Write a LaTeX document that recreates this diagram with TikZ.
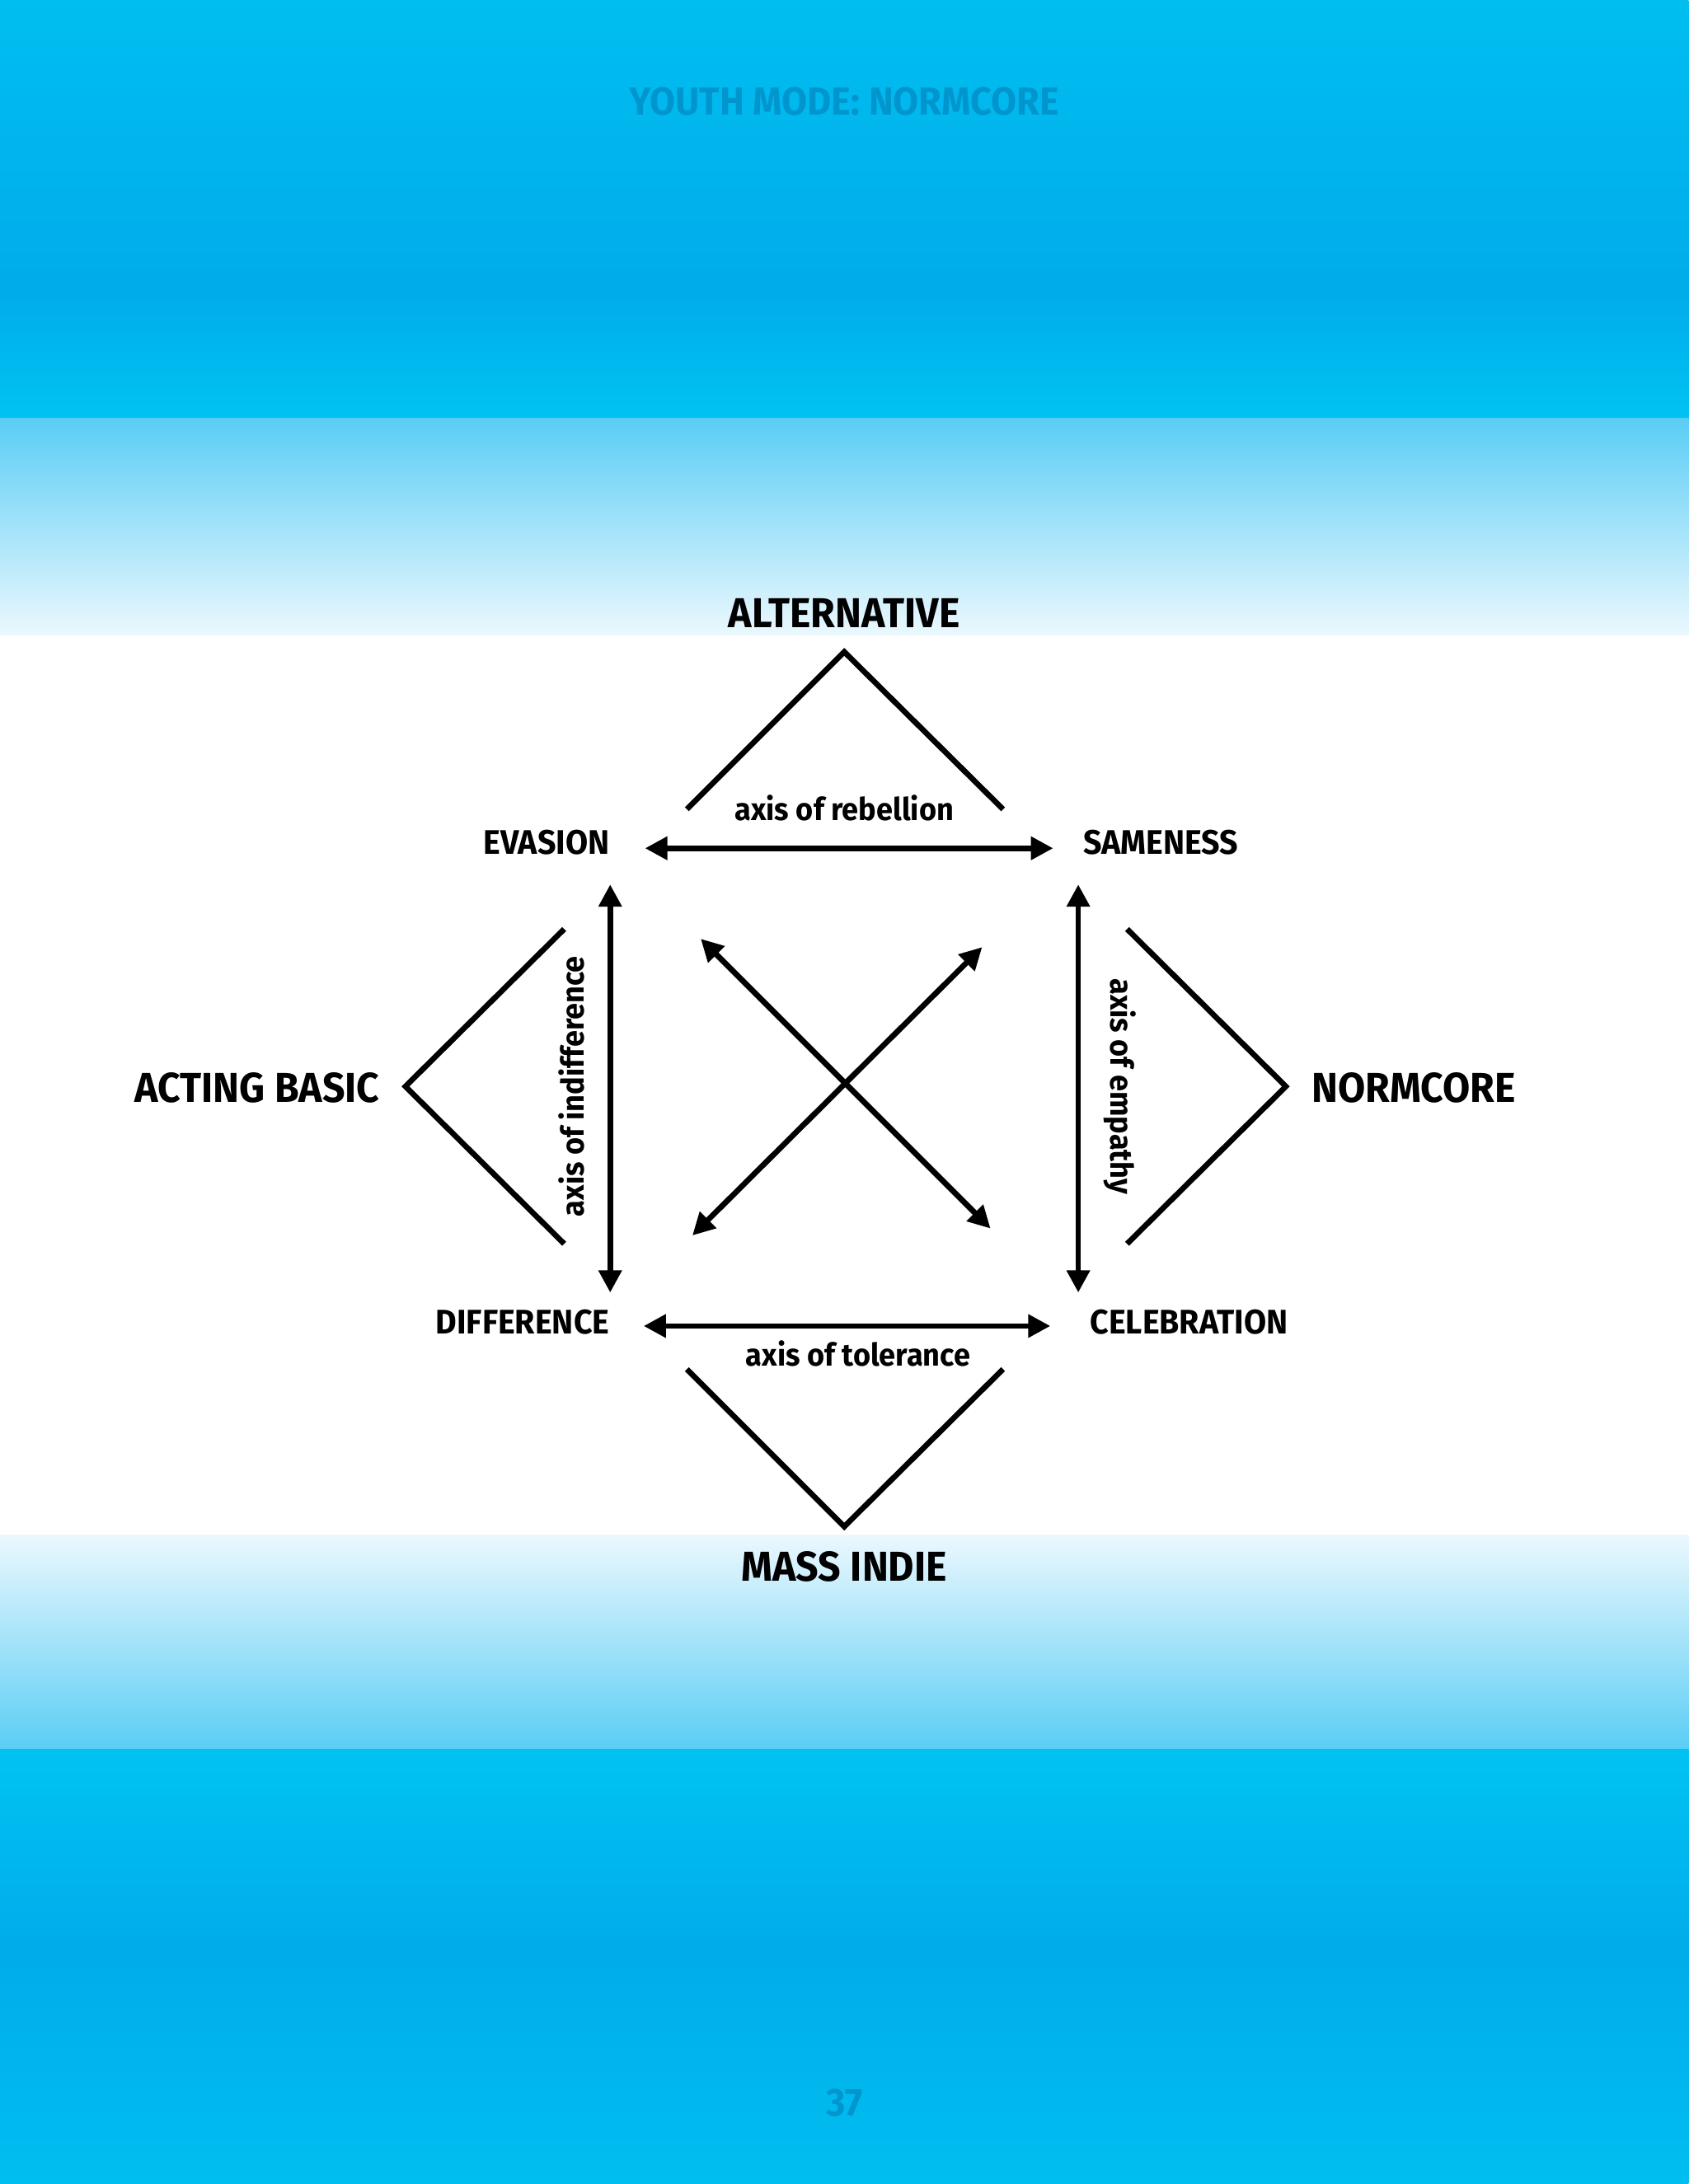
\documentclass[tikz,border=0pt]{standalone}
\usepackage{fontspec}
\setmainfont{Fira Sans}[FakeStretch=0.95]
\usetikzlibrary{arrows.meta}
\definecolor{cyanA}{RGB}{0,190,240}
\definecolor{cyanB}{RGB}{0,172,234}
\definecolor{cyanC}{RGB}{0,195,242}
\definecolor{cyanL}{RGB}{90,205,245}
\definecolor{cyanW}{RGB}{235,248,254}
\definecolor{titleblue}{RGB}{0,150,205}
\tikzset{
  ln/.style={line width=4pt,black},
  dbl/.style={ln,{Triangle[length=16pt,width=16pt]}-{Triangle[length=16pt,width=16pt]}},
  big/.style={font=\bfseries\fontsize{30}{32}\selectfont},
  mid/.style={font=\bfseries\fontsize{24.5}{26}\selectfont},
  axl/.style={font=\bfseries\fontsize{22.5}{24}\selectfont},
  ttl/.style={text=titleblue,font=\bfseries\fontsize{28}{30}\selectfont},
}
\begin{document}
\begin{tikzpicture}[x=1pt,y=-1pt]
\useasboundingbox (0,0) rectangle (1212,1568);
\fill[white] (0,0) rectangle (1212,1568);
\shade[top color=cyanA,bottom color=cyanB] (0,0) rectangle (1212,210);
\shade[top color=cyanB,bottom color=cyanC] (0,209) rectangle (1212,301);
\shade[top color=cyanL,bottom color=cyanW] (0,300) rectangle (1212,456);
\shade[top color=cyanW,bottom color=cyanL] (0,1102) rectangle (1212,1257);
\shade[top color=cyanC,bottom color=cyanB] (0,1256) rectangle (1212,1400);
\shade[top color=cyanB,bottom color=cyanA] (0,1399) rectangle (1212,1568);
\node[ttl] (title) at (606,73) {YOUTH MODE: NORMCORE};
\node[ttl] (page) at (606,1510) {37};
% labels
\node[big] (alt) at (606,440) {ALTERNATIVE};
\node[big] (mass) at (606,1125) {MASS INDIE};
\node[big,anchor=east] (basic) at (276,781) {ACTING BASIC};
\node[big,anchor=west] (norm) at (938,781) {NORMCORE};
\node[mid,anchor=east] (eva) at (441,605) {EVASION};
\node[mid,anchor=west] (same) at (774,605) {SAMENESS};
\node[mid,anchor=east] (diff) at (441,949) {DIFFERENCE};
\node[mid,anchor=west] (cele) at (779,949) {CELEBRATION};
\node[axl] (reb) at (606,580) {axis of rebellion};
\node[axl] (tol) at (616,972) {axis of tolerance};
\node[axl,rotate=90] (ind) at (410,780) {axis of indifference};
\node[axl,rotate=-90] (emp) at (804,780) {axis of empathy};
% coordinates
\coordinate (t1) at (493,581); \coordinate (t2) at (606,468); \coordinate (t3) at (720,581);
\coordinate (b1) at (493,983); \coordinate (b2) at (606,1096); \coordinate (b3) at (720,983);
\coordinate (l1) at (405,667); \coordinate (l2) at (291,780); \coordinate (l3) at (405,893);
\coordinate (r1) at (809,667); \coordinate (r2) at (923,780); \coordinate (r3) at (809,893);
\coordinate (h1a) at (463,609); \coordinate (h1b) at (756,609);
\coordinate (h2a) at (462,952); \coordinate (h2b) at (754,952);
\coordinate (v1a) at (438,635); \coordinate (v1b) at (438,928);
\coordinate (v2a) at (774,635); \coordinate (v2b) at (774,928);
\coordinate (x1a) at (503,674); \coordinate (x1b) at (711,882);
\coordinate (x2a) at (705,680); \coordinate (x2b) at (497,887);
\draw[ln] (t1) -- (t2) -- (t3);
\draw[ln] (b1) -- (b2) -- (b3);
\draw[ln] (l1) -- (l2) -- (l3);
\draw[ln] (r1) -- (r2) -- (r3);
\draw[dbl] (h1a) -- (h1b);
\draw[dbl] (h2a) -- (h2b);
\draw[dbl] (v1a) -- (v1b);
\draw[dbl] (v2a) -- (v2b);
\draw[dbl] (x1a) -- (x1b);
\draw[dbl] (x2a) -- (x2b);
\end{tikzpicture}
\end{document}
